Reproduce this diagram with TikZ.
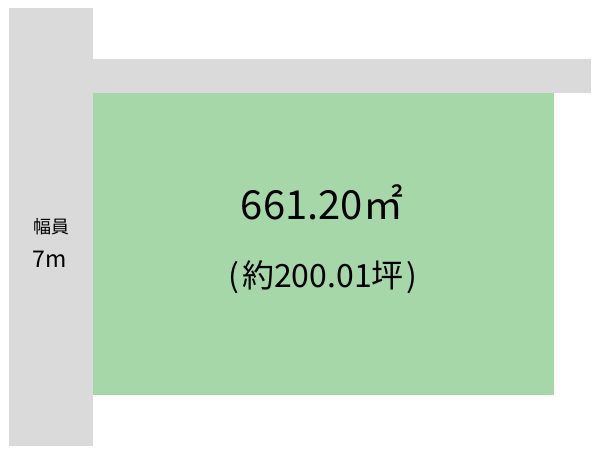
\documentclass[tikz,border=0pt]{standalone}
\usepackage{fontspec}
\setmainfont{Noto Sans CJK JP}
\definecolor{roadgray}{HTML}{DADADA}
\definecolor{lotgreen}{HTML}{A6D7A8}
\tikzset{
  road/.style={fill=roadgray},
  lot/.style={fill=lotgreen},
  arealabel/.style={font=\fontsize{40}{40}\selectfont},
  tsubolabel/.style={font=\fontsize{32}{32}\selectfont},
  roadlabel/.style={font=\fontsize{18}{18}\selectfont},
  roadvalue/.style={font=\fontsize{23}{23}\selectfont},
}
\begin{document}
\begin{tikzpicture}[x=1pt,y=-1pt]
  \useasboundingbox (0,0) rectangle (600,455);
  % roads
  \fill[road] (9,8) rectangle (93,446);
  \fill[road] (93,59) rectangle (591,93);
  % lot
  \fill[lot] (93,93) rectangle (554,395);
  \node[arealabel] (area) at (322,202) {661.20㎡};
  \node[tsubolabel] (tsubo) at (323,277) {(\hspace{3pt}約200.01坪\hspace{3pt})};
  \node[roadlabel] (width) at (51,227) {幅員};
  \node[roadvalue] (widthval) at (50,259) {7m};
\end{tikzpicture}
\end{document}
